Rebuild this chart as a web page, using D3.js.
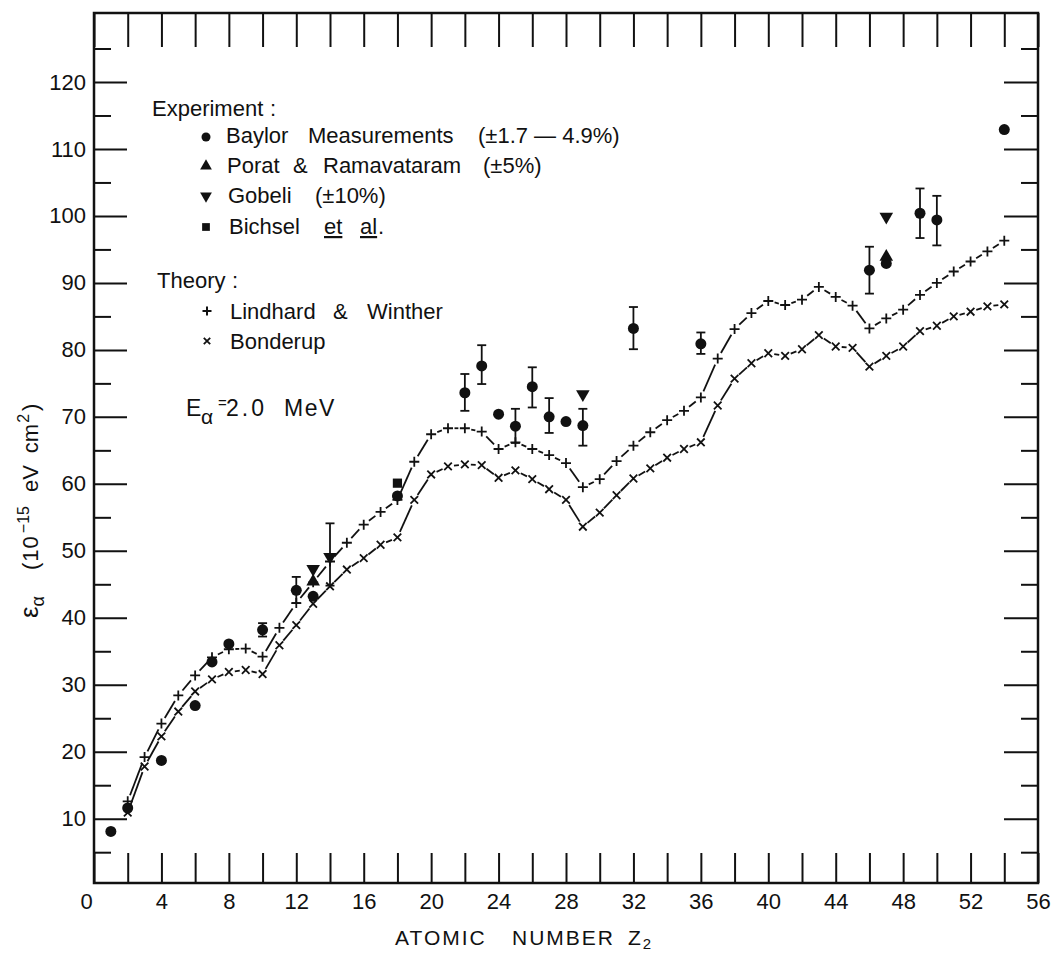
<!DOCTYPE html>
<html>
<head>
<meta charset="utf-8">
<script src="https://cdn.jsdelivr.net/npm/d3@7"></script>
<style>
  body { margin: 0; background: #fff; }
  svg text { font-family: "Liberation Sans", Arial, sans-serif; fill: #111; }
</style>
</head>
<body>
<svg id="chart" width="1058" height="955"></svg>
<script>
// theory curves, Z = 2 .. 54
const theoryZ = d3.range(2, 55);
const lindhard = [12.6, 19.2, 24.2, 28.4, 31.4, 34.1, 35.3, 35.4, 34.2, 38.5,
  42.2, 45.3, 48.4, 51.2, 53.9, 55.8, 57.6, 63.3, 67.4, 68.3,
  68.3, 67.8, 65.2, 66.2, 65.2, 64.3, 63.1, 59.5, 60.7, 63.4,
  65.7, 67.7, 69.5, 70.9, 72.9, 78.7, 83.1, 85.5, 87.3, 86.7,
  87.5, 89.4, 87.9, 86.6, 83.2, 84.7, 86.0, 88.2, 90.0, 91.7,
  93.2, 94.7, 96.3];
const bonderup = [10.9, 17.8, 22.3, 26.0, 29.0, 30.8, 31.9, 32.2, 31.6, 35.9,
  38.9, 42.1, 44.7, 47.2, 48.9, 50.9, 52.0, 57.6, 61.4, 62.6,
  62.9, 62.8, 60.9, 62.0, 60.7, 59.2, 57.6, 53.6, 55.7, 58.3,
  60.8, 62.3, 63.9, 65.2, 66.2, 71.7, 75.7, 78.0, 79.5, 79.1,
  80.1, 82.2, 80.5, 80.3, 77.5, 79.1, 80.5, 82.8, 83.6, 85.0,
  85.7, 86.5, 86.8];

// experiment
const baylorZ  = [1, 2, 4, 6, 7, 8, 10, 12, 13, 18, 22, 23, 24, 25, 26, 27, 28, 29, 32, 36, 46, 47, 49, 50, 54];
const baylorE  = [8.1, 11.6, 18.7, 26.9, 33.4, 36.1, 38.2, 44.1, 43.2, 58.2, 73.6, 77.6, 70.4, 68.6, 74.5, 70.0, 69.3, 68.7, 83.2, 80.9, 91.9, 92.9, 100.4, 99.4, 112.9];
const baylorLo = [null, null, null, null, null, null, 37.2, 42.2, null, null, 70.9, 74.9, null, 66.1, 71.4, 67.6, null, 65.7, 80.1, 79.4, 88.4, null, 96.7, 95.6, null];
const baylorHi = [null, null, null, null, null, null, 39.2, 46.1, null, null, 76.4, 80.7, null, 71.2, 77.4, 72.8, null, 71.2, 86.4, 82.6, 95.4, null, 104.1, 103.0, null];

const poratZ = [13, 47];
const poratE = [45.4, 93.9];

const gobeliZ  = [13, 14, 29, 47];
const gobeliE  = [47.3, 49.1, 73.4, 99.9];
const gobeliLo = [null, 44.8, null, null];
const gobeliHi = [null, 54.1, null, null];

const bichselZ = [18];
const bichselE = [60.1];

const xTicks = d3.range(0, 57, 2);
const yMajor = d3.range(10, 121, 10);
const yMinor = d3.range(5, 126, 10);

const svg = d3.select('#chart');
const ink = '#111';
const fontFam = '"Liberation Sans", Arial, sans-serif';

const x = d3.scaleLinear().domain([0, 56]).range([94, 1038]);
const y = d3.scaleLinear().domain([0.4, 130.3]).range([883, 13]);

// ---- ticks ----
function styleAxis(g) {
  g.select('.domain').remove();
  g.selectAll('.tick line').attr('stroke', ink).attr('stroke-width', 2);
  g.selectAll('.tick text').attr('font-size', 22).attr('font-family', fontFam).attr('fill', ink);
}

svg.append('g').attr('transform', `translate(0,${y.range()[0]})`)
  .call(d3.axisBottom(x).tickValues(xTicks).tickSize(-30).tickPadding(10)
    .tickFormat(d => d % 4 === 0 ? d : ''))
  .call(styleAxis)
  .call(g => g.selectAll('.tick text').filter(d => d === 0).attr('dx', -8));

svg.append('g').attr('transform', `translate(0,${y.range()[1]})`)
  .call(d3.axisTop(x).tickValues(xTicks).tickSize(-34).tickFormat(''))
  .call(styleAxis);

svg.append('g').attr('transform', `translate(${x.range()[0]},0)`)
  .call(d3.axisLeft(y).tickValues(yMajor).tickSize(-33).tickPadding(8))
  .call(styleAxis);
svg.append('g').attr('transform', `translate(${x.range()[0]},0)`)
  .call(d3.axisLeft(y).tickValues(yMinor).tickSize(-17).tickFormat(''))
  .call(styleAxis);

svg.append('g').attr('transform', `translate(${x.range()[1]},0)`)
  .call(d3.axisRight(y).tickValues(yMajor).tickSize(-34).tickFormat(''))
  .call(styleAxis);
svg.append('g').attr('transform', `translate(${x.range()[1]},0)`)
  .call(d3.axisRight(y).tickValues(yMinor).tickSize(-17).tickFormat(''))
  .call(styleAxis);

// frame
svg.append('rect')
  .attr('x', x.range()[0]).attr('y', y.range()[1])
  .attr('width', x.range()[1] - x.range()[0])
  .attr('height', y.range()[0] - y.range()[1])
  .attr('fill', 'none').attr('stroke', ink).attr('stroke-width', 2.5);

// ---- theory curves: segments broken near each marker ----
function brokenLine(vals, gap) {
  const pts = theoryZ.map((z, i) => [x(z), y(vals[i])]);
  const g = svg.append('g').attr('stroke', ink).attr('stroke-width', 1.8);
  d3.pairs(pts).forEach(([a, b]) => {
    const dx = b[0] - a[0], dy = b[1] - a[1];
    const len = Math.hypot(dx, dy);
    if (len <= 2 * gap) return;
    const ux = dx / len, uy = dy / len;
    g.append('line')
      .attr('x1', a[0] + ux * gap).attr('y1', a[1] + uy * gap)
      .attr('x2', b[0] - ux * gap).attr('y2', b[1] - uy * gap);
  });
}
brokenLine(lindhard, 6.5);
brokenLine(bonderup, 6);

const plusPath = s => `M${-s},0H${s}M0,${-s}V${s}`;
const crossPath = s => `M${-s},${-s}L${s},${s}M${-s},${s}L${s},${-s}`;

svg.append('g').selectAll('path').data(theoryZ).join('path')
  .attr('transform', (z, i) => `translate(${x(z)},${y(lindhard[i])})`)
  .attr('d', plusPath(5)).attr('stroke', ink).attr('stroke-width', 1.8).attr('fill', 'none');
svg.append('g').selectAll('path').data(theoryZ).join('path')
  .attr('transform', (z, i) => `translate(${x(z)},${y(bonderup[i])})`)
  .attr('d', crossPath(3.8)).attr('stroke', ink).attr('stroke-width', 1.8).attr('fill', 'none');

// ---- error bars ----
function errorBars(zs, lo, hi) {
  const g = svg.append('g').attr('stroke', ink).attr('stroke-width', 1.8);
  zs.forEach((z, i) => {
    if (lo[i] == null) return;
    const cx = x(z);
    g.append('line').attr('x1', cx).attr('x2', cx).attr('y1', y(lo[i])).attr('y2', y(hi[i]));
    [lo[i], hi[i]].forEach(v => {
      g.append('line').attr('x1', cx - 4.5).attr('x2', cx + 4.5).attr('y1', y(v)).attr('y2', y(v));
    });
  });
}
errorBars(baylorZ, baylorLo, baylorHi);
errorBars(gobeliZ, gobeliLo, gobeliHi);

// ---- experiment markers ----
const triUp = d3.symbol(d3.symbolTriangle, 80)();
const square = d3.symbol(d3.symbolSquare, 85)();

svg.append('g').selectAll('circle').data(baylorZ).join('circle')
  .attr('cx', d => x(d)).attr('cy', (d, i) => y(baylorE[i])).attr('r', 5.5).attr('fill', ink);
svg.append('g').selectAll('path').data(poratZ).join('path')
  .attr('transform', (d, i) => `translate(${x(d)},${y(poratE[i])})`)
  .attr('d', triUp).attr('fill', ink);
svg.append('g').selectAll('path').data(gobeliZ).join('path')
  .attr('transform', (d, i) => `translate(${x(d)},${y(gobeliE[i])}) rotate(180)`)
  .attr('d', triUp).attr('fill', ink);
svg.append('g').selectAll('path').data(bichselZ).join('path')
  .attr('transform', (d, i) => `translate(${x(d)},${y(bichselE[i])})`)
  .attr('d', square).attr('fill', ink);

// ---- legend ----
const legend = svg.append('g').attr('font-size', 22);

function legendLine(yBase, words) {
  const t = legend.append('text').attr('y', yBase);
  words.forEach(w => {
    const s = t.append('tspan').attr('x', w.x).text(w.t);
    if (w.u) s.attr('text-decoration', 'underline');
  });
}

legendLine(116, [{t: 'Experiment', x: 152}, {t: ':', x: 270}]);

const legendMarks = [
  {sym: 'circle', y: 137},
  {sym: 'up', y: 166},
  {sym: 'down', y: 196},
  {sym: 'square', y: 227}
];
legendMarks.forEach(it => {
  const m = legend.append('g').attr('transform', `translate(206,${it.y})`);
  if (it.sym === 'circle') m.append('circle').attr('r', 4.5).attr('fill', ink);
  if (it.sym === 'up') m.append('path').attr('d', d3.symbol(d3.symbolTriangle, 60)()).attr('fill', ink);
  if (it.sym === 'down') m.append('path').attr('d', d3.symbol(d3.symbolTriangle, 60)()).attr('transform', 'rotate(180)').attr('fill', ink);
  if (it.sym === 'square') m.append('path').attr('d', d3.symbol(d3.symbolSquare, 60)()).attr('fill', ink);
});

legendLine(143, [{t: 'Baylor', x: 226}, {t: 'Measurements', x: 308}, {t: '(\u00b11.7 \u2014 4.9%)', x: 478}]);
legendLine(173, [{t: 'Porat', x: 227}, {t: '&', x: 293}, {t: 'Ramavataram', x: 323}, {t: '(\u00b15%)', x: 483}]);
legendLine(203, [{t: 'Gobeli', x: 228}, {t: '(\u00b110%)', x: 315}]);
legendLine(234, [{t: 'Bichsel', x: 229}, {t: 'et', x: 324, u: true}, {t: 'al', x: 360, u: true}, {t: '.', x: 378}]);

legendLine(288, [{t: 'Theory', x: 157}, {t: ':', x: 232}]);
legend.append('path').attr('transform', 'translate(207,311)').attr('d', plusPath(4.5))
  .attr('stroke', ink).attr('stroke-width', 2);
legendLine(319, [{t: 'Lindhard', x: 230}, {t: '&', x: 333}, {t: 'Winther', x: 367}]);
legend.append('path').attr('transform', 'translate(207,341)').attr('d', crossPath(3.2))
  .attr('stroke', ink).attr('stroke-width', 1.8);
legendLine(349, [{t: 'Bonderup', x: 230}]);

const ea = legend.append('text').attr('y', 416).attr('font-size', 23);
ea.append('tspan').attr('x', 186).text('E');
ea.append('tspan').attr('x', 201).attr('font-size', 21).attr('dy', 8).text('\u03b1');
ea.append('tspan').attr('x', 218).attr('font-size', 15).attr('dy', -16).text('=');
ea.append('tspan').attr('x', 226).attr('dy', 8).attr('letter-spacing', 3).text('2.0');
ea.append('tspan').attr('x', 284).attr('letter-spacing', 1.5).text('MeV');

// ---- axis titles ----
const xt = svg.append('text').attr('y', 945).attr('font-size', 21).attr('letter-spacing', 2);
xt.append('tspan').attr('x', 395).text('ATOMIC');
xt.append('tspan').attr('x', 512).text('NUMBER');
xt.append('tspan').attr('x', 628).text('Z');
xt.append('tspan').attr('font-size', 15).attr('dy', 4).text('2');

const yt = svg.append('text').attr('transform', 'translate(38,618) rotate(-90)').attr('font-size', 22);
yt.append('tspan').attr('font-size', 26).text('\u03b5');
yt.append('tspan').attr('font-size', 18).attr('dy', 6).text('\u03b1');
yt.append('tspan').attr('dy', -6).attr('dx', 26).attr('letter-spacing', 1).text('(10');
yt.append('tspan').attr('font-size', 16).attr('dy', -9).attr('dx', 2).text('\u221215');
yt.append('tspan').attr('dy', 9).attr('dx', 14).text('eV');
yt.append('tspan').attr('dx', 12).text('cm');
yt.append('tspan').attr('font-size', 16).attr('dy', -9).attr('dx', 1).text('2');
yt.append('tspan').attr('dy', 9).attr('dx', 3).text(')');
</script>
</body>
</html>
